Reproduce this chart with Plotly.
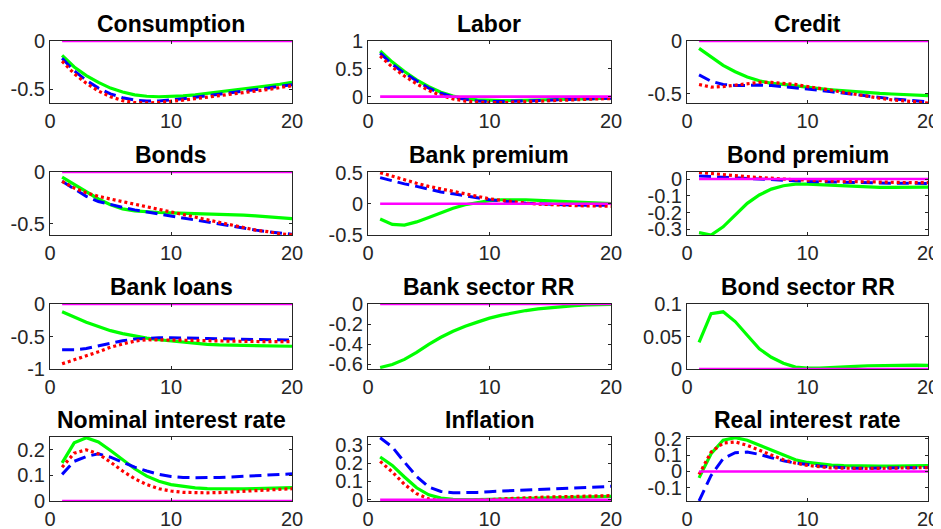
import plotly.graph_objects as go

periods = list(range(1, 21))

titles = ["Consumption", "Labor", "Credit",
          "Bonds", "Bank premium", "Bond premium",
          "Bank loans", "Bank sector RR", "Bond sector RR",
          "Nominal interest rate", "Inflation", "Real interest rate"]

# Consumption
cons_g = [-0.15, -0.27, -0.36, -0.43, -0.49, -0.53, -0.56, -0.575, -0.58, -0.578, -0.57, -0.56, -0.545, -0.53, -0.515, -0.5, -0.485, -0.47, -0.45, -0.43]
cons_b = [-0.18, -0.31, -0.41, -0.49, -0.55, -0.59, -0.615, -0.625, -0.625, -0.615, -0.6, -0.585, -0.57, -0.555, -0.54, -0.52, -0.505, -0.49, -0.47, -0.455]
cons_r = [-0.21, -0.34, -0.44, -0.52, -0.58, -0.62, -0.64, -0.645, -0.64, -0.63, -0.615, -0.6, -0.585, -0.57, -0.555, -0.54, -0.525, -0.505, -0.485, -0.465]
# Labor
lab_g = [0.82, 0.62, 0.45, 0.3, 0.18, 0.08, 0.01, -0.04, -0.06, -0.07, -0.07, -0.07, -0.065, -0.06, -0.055, -0.05, -0.045, -0.04, -0.035, -0.03]
lab_b = [0.78, 0.58, 0.42, 0.28, 0.15, 0.06, -0.01, -0.05, -0.08, -0.09, -0.09, -0.085, -0.08, -0.07, -0.06, -0.055, -0.05, -0.04, -0.035, -0.03]
lab_r = [0.73, 0.53, 0.37, 0.23, 0.11, 0.02, -0.04, -0.08, -0.1, -0.11, -0.11, -0.1, -0.09, -0.08, -0.07, -0.06, -0.05, -0.045, -0.04, -0.035]
# Credit
cred_g = [-0.07, -0.15, -0.23, -0.29, -0.34, -0.375, -0.4, -0.41, -0.425, -0.44, -0.45, -0.46, -0.47, -0.48, -0.488, -0.495, -0.5, -0.505, -0.51, -0.515]
cred_b = [-0.32, -0.38, -0.41, -0.42, -0.42, -0.415, -0.42, -0.43, -0.44, -0.45, -0.465, -0.48, -0.49, -0.505, -0.52, -0.535, -0.545, -0.555, -0.565, -0.575]
cred_r = [-0.41, -0.435, -0.43, -0.415, -0.405, -0.39, -0.39, -0.4, -0.41, -0.43, -0.445, -0.465, -0.485, -0.505, -0.525, -0.54, -0.555, -0.565, -0.575, -0.585]
# Bonds
bond_g = [-0.05, -0.12, -0.19, -0.26, -0.315, -0.355, -0.375, -0.385, -0.39, -0.393, -0.396, -0.4, -0.403, -0.406, -0.41, -0.416, -0.422, -0.43, -0.44, -0.45]
bond_b = [-0.09, -0.165, -0.235, -0.285, -0.315, -0.34, -0.365, -0.385, -0.405, -0.425, -0.445, -0.465, -0.485, -0.505, -0.52, -0.54, -0.56, -0.575, -0.585, -0.6]
bond_r = [-0.09, -0.155, -0.2, -0.235, -0.26, -0.285, -0.31, -0.34, -0.365, -0.39, -0.415, -0.44, -0.465, -0.49, -0.515, -0.54, -0.56, -0.575, -0.595, -0.605]
# Bank premium
bprem_g = [-0.245, -0.33, -0.34, -0.29, -0.22, -0.15, -0.07, -0.015, 0.02, 0.05, 0.065, 0.07, 0.065, 0.055, 0.045, 0.035, 0.025, 0.015, 0.01, 0.005]
bprem_b = [0.42, 0.365, 0.32, 0.28, 0.235, 0.19, 0.16, 0.125, 0.09, 0.065, 0.045, 0.025, 0.01, 0.0, -0.01, -0.015, -0.02, -0.025, -0.025, -0.025]
bprem_r = [0.5, 0.44, 0.385, 0.33, 0.28, 0.24, 0.195, 0.15, 0.115, 0.08, 0.055, 0.03, 0.01, -0.005, -0.015, -0.025, -0.03, -0.035, -0.035, -0.04]
# Bond premium
dprem_g = [-0.32, -0.334, -0.285, -0.215, -0.145, -0.095, -0.06, -0.04, -0.03, -0.03, -0.034, -0.038, -0.042, -0.046, -0.048, -0.05, -0.05, -0.05, -0.05, -0.048]
dprem_b = [0.018, 0.014, 0.01, 0.006, 0.002, -0.002, -0.006, -0.01, -0.012, -0.014, -0.016, -0.018, -0.02, -0.022, -0.023, -0.024, -0.025, -0.025, -0.026, -0.026]
dprem_r = [0.04, 0.032, 0.026, 0.02, 0.014, 0.008, 0.004, 0.0, -0.004, -0.008, -0.01, -0.012, -0.014, -0.016, -0.018, -0.02, -0.02, -0.022, -0.022, -0.022]
# Bank loans
loan_g = [-0.12, -0.2, -0.28, -0.345, -0.41, -0.455, -0.495, -0.525, -0.55, -0.57, -0.59, -0.61, -0.62, -0.63, -0.635, -0.64, -0.645, -0.648, -0.65, -0.65]
loan_b = [-0.705, -0.705, -0.685, -0.645, -0.6, -0.565, -0.54, -0.525, -0.52, -0.52, -0.52, -0.522, -0.53, -0.535, -0.54, -0.545, -0.55, -0.55, -0.555, -0.555]
loan_r = [-0.92, -0.86, -0.8, -0.735, -0.665, -0.615, -0.57, -0.55, -0.55, -0.55, -0.555, -0.56, -0.565, -0.57, -0.572, -0.575, -0.578, -0.58, -0.58, -0.58]
# Bank sector RR
bankrr_g = [-0.63, -0.6, -0.55, -0.48, -0.4, -0.33, -0.27, -0.22, -0.18, -0.14, -0.11, -0.085, -0.065, -0.048, -0.035, -0.025, -0.017, -0.01, -0.006, -0.003]
# Bond sector RR
bondrr_g = [0.041, 0.085, 0.088, 0.073, 0.052, 0.031, 0.018, 0.009, 0.003, 0.0015, 0.0015, 0.002, 0.003, 0.004, 0.005, 0.0055, 0.006, 0.006, 0.006, 0.0055]
# Nominal interest rate
nom_g = [0.149, 0.227, 0.247, 0.231, 0.197, 0.161, 0.126, 0.097, 0.077, 0.064, 0.056, 0.051, 0.048, 0.047, 0.047, 0.047, 0.048, 0.049, 0.05, 0.052]
nom_b = [0.104, 0.155, 0.174, 0.184, 0.171, 0.152, 0.132, 0.117, 0.104, 0.096, 0.092, 0.091, 0.091, 0.092, 0.094, 0.096, 0.099, 0.101, 0.104, 0.106]
nom_r = [0.132, 0.187, 0.2, 0.184, 0.152, 0.117, 0.087, 0.064, 0.048, 0.039, 0.034, 0.032, 0.032, 0.033, 0.035, 0.038, 0.04, 0.043, 0.045, 0.048]
# Inflation
inf_g = [0.233, 0.187, 0.124, 0.065, 0.027, 0.009, 0.002, 0.0, 0.0, 0.002, 0.004, 0.005, 0.007, 0.009, 0.011, 0.013, 0.015, 0.016, 0.017, 0.018]
inf_b = [0.338, 0.287, 0.205, 0.127, 0.069, 0.045, 0.038, 0.038, 0.04, 0.044, 0.047, 0.051, 0.055, 0.058, 0.062, 0.064, 0.067, 0.069, 0.071, 0.073]
inf_r = [0.209, 0.151, 0.084, 0.033, 0.004, -0.007, -0.009, -0.007, -0.004, 0.0, 0.004, 0.008, 0.011, 0.013, 0.015, 0.017, 0.018, 0.02, 0.021, 0.022]
# Real interest rate
real_g = [-0.039, 0.108, 0.19, 0.206, 0.19, 0.159, 0.129, 0.098, 0.071, 0.055, 0.045, 0.039, 0.035, 0.033, 0.033, 0.033, 0.033, 0.033, 0.034, 0.035]
real_b = [-0.18, -0.024, 0.078, 0.114, 0.118, 0.104, 0.084, 0.065, 0.051, 0.041, 0.033, 0.027, 0.022, 0.02, 0.02, 0.02, 0.021, 0.022, 0.023, 0.024]
real_r = [-0.018, 0.118, 0.173, 0.18, 0.159, 0.129, 0.098, 0.071, 0.051, 0.037, 0.029, 0.022, 0.02, 0.018, 0.018, 0.019, 0.02, 0.021, 0.022, 0.024]

zero_line = [0.0] * 20

green_series = [cons_g, lab_g, cred_g, bond_g, bprem_g, dprem_g, loan_g, bankrr_g, bondrr_g, nom_g, inf_g, real_g]
blue_series = [cons_b, lab_b, cred_b, bond_b, bprem_b, dprem_b, loan_b, None, None, nom_b, inf_b, real_b]
red_series = [cons_r, lab_r, cred_r, bond_r, bprem_r, dprem_r, loan_r, None, None, nom_r, inf_r, real_r]

y_ranges = [[-0.645, 0], [-0.115, 1], [-0.585, 0],
            [-0.607, 0], [-0.5, 0.51], [-0.334, 0.042],
            [-1, 0], [-0.645, 0], [0, 0.1],
            [0, 0.25], [-0.007, 0.342], [-0.18, 0.21]]
y_ticks = [[-0.5, 0], [0, 0.5, 1], [-0.5, 0],
           [-0.5, 0], [-0.5, 0, 0.5], [-0.3, -0.2, -0.1, 0],
           [-1, -0.5, 0], [-0.6, -0.4, -0.2, 0], [0, 0.05, 0.1],
           [0, 0.1, 0.2], [0, 0.1, 0.2, 0.3], [-0.1, 0, 0.1, 0.2]]
x_ticks = [0, 10, 20]

# page has an 8px body margin, so the figure is sized to fit the window after it
OFF = 8
W, H = 941 - OFF, 529 - OFF
col_px = [(50, 292), (368, 611), (687, 928)]
row_px = [(41, 103), (172, 235), (304, 369), (437, 501)]

AX = "#262626"
FONT = "Liberation Sans, Arial, sans-serif"
fig = go.Figure()
annotations = []

def fmt(v):
    return "%g" % v

for i in range(12):
    r, c = divmod(i, 3)
    xa = "x" if i == 0 else "x%d" % (i + 1)
    ya = "y" if i == 0 else "y%d" % (i + 1)
    traces = [(green_series[i], dict(color="#00FF00", width=3.2)),
              (blue_series[i], dict(color="#0000FF", width=3, dash="12px,6px")),
              (red_series[i], dict(color="#FF0000", width=3.2, dash="3px,3px")),
              (zero_line, dict(color="#FF00FF", width=2.6))]
    for ser, ln in traces:
        if ser is None:
            continue
        fig.add_trace(go.Scatter(x=periods, y=ser, mode="lines", line=ln,
                                 xaxis=xa, yaxis=ya, showlegend=False,
                                 hoverinfo="skip"))
    x0, x1 = col_px[c]
    y0, y1 = row_px[r]
    xd = [(x0 - OFF) / W, (x1 - OFF) / W]
    yd = [1 - (y1 - OFF) / H, 1 - (y0 - OFF) / H]
    kx = "xaxis" if i == 0 else "xaxis%d" % (i + 1)
    ky = "yaxis" if i == 0 else "yaxis%d" % (i + 1)
    common = dict(showline=True, mirror="ticks", linecolor=AX, linewidth=1,
                  ticks="inside", ticklen=3, tickcolor=AX, showgrid=False,
                  zeroline=False, tickfont=dict(size=20, color=AX, family=FONT),
                  fixedrange=True, automargin=False)
    fig.layout[kx] = dict(domain=xd, anchor=ya, range=[0, 20], tickvals=x_ticks,
                          ticktext=[fmt(v) for v in x_ticks], **common)
    fig.layout[ky] = dict(domain=yd, anchor=xa, range=y_ranges[i], tickvals=y_ticks[i],
                          ticktext=[fmt(v) for v in y_ticks[i]], **common)
    annotations.append(dict(text="<b>%s</b>" % titles[i], xref="paper", yref="paper",
                            x=(xd[0] + xd[1]) / 2, y=yd[1], xanchor="center",
                            yanchor="bottom", yshift=2, showarrow=False,
                            font=dict(size=23, color="#000000", family=FONT)))

fig.update_layout(width=W, height=H, autosize=False,
                  margin=dict(l=0, r=0, t=0, b=0, pad=0),
                  paper_bgcolor="white", plot_bgcolor="white",
                  annotations=annotations, showlegend=False)
fig.write_html("out.html", config={"displayModeBar": False})
